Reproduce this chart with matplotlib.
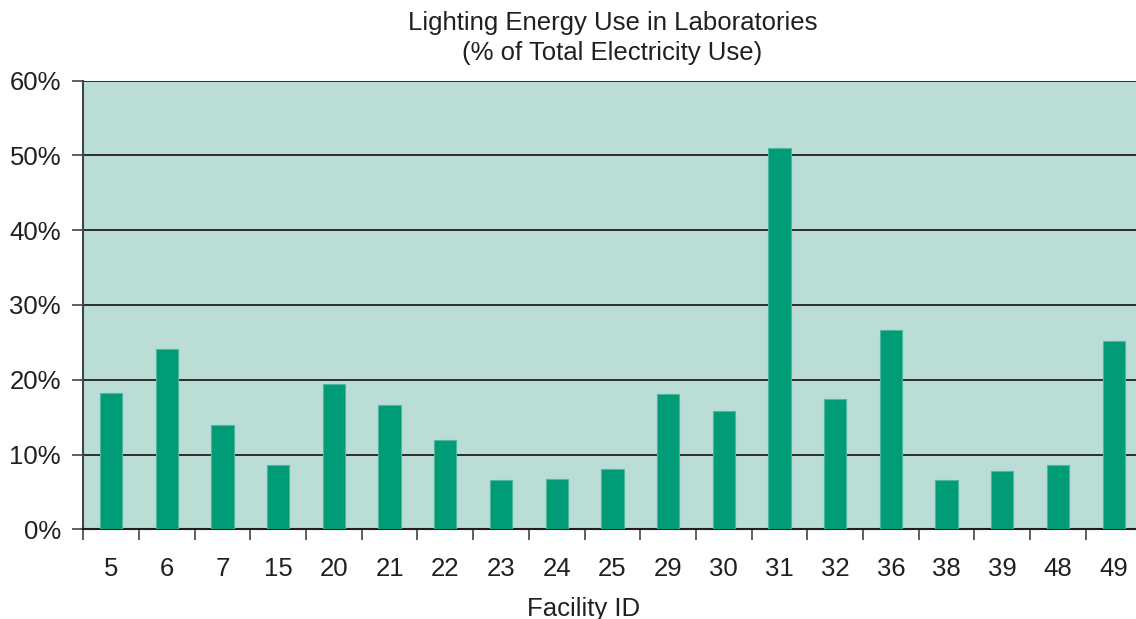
import matplotlib
matplotlib.use("Agg")
import matplotlib.pyplot as plt
import numpy as np

facility_ids = ["5", "6", "7", "15", "20", "21", "22", "23", "24", "25",
                "29", "30", "31", "32", "36", "38", "39", "48", "49"]
lighting_pct = [18.2, 24.1, 14.0, 8.6, 19.5, 16.6, 11.9, 6.55, 6.75, 8.05,
                18.05, 15.8, 51.0, 17.4, 26.65, 6.55, 7.75, 8.6, 25.2]
y_ticks = [0, 10, 20, 30, 40, 50, 60]
y_tick_labels = ["0%", "10%", "20%", "30%", "40%", "50%", "60%"]

plt.rcParams['font.family'] = ['Liberation Sans', 'DejaVu Sans']

W, H = 1136, 619
fig = plt.figure(figsize=(W / 100, H / 100), dpi=100)
left, right, top, bottom = 83.3, 1141.5, 80.7, 529.3
ax = fig.add_axes([left / W, 1 - bottom / H, (right - left) / W, (bottom - top) / H])

bg = "#BADDD6"
bar_color = "#009B77"
ax.set_facecolor(bg)

x = np.arange(len(facility_ids))
ax.bar(x, lighting_pct, width=0.4, color=bar_color, edgecolor="#4DB89A",
       linewidth=0.8, zorder=3)

ax.set_xlim(-0.5, len(facility_ids) - 0.5)
ax.set_ylim(0, 60)

ax.set_yticks(y_ticks)
ax.set_yticklabels(y_tick_labels, fontsize=18.5, color="#231F20")
ax.yaxis.grid(True, color="#231F20", linewidth=1.3, zorder=1)
ax.set_axisbelow(True)

# category boundaries as ticks, labels at centres
ax.set_xticks(np.arange(len(facility_ids) + 1) - 0.5)
ax.set_xticklabels([])
ax.set_xticks(x, minor=True)
ax.set_xticklabels(facility_ids, minor=True, fontsize=18.5, color="#231F20")
ax.tick_params(axis="x", which="major", length=8, width=1.2, color="#444444", direction="out")
ax.tick_params(axis="x", which="minor", length=0, pad=20)
ax.tick_params(axis="y", length=8, width=1.2, color="#444444", pad=8)

for s in ["top", "right"]:
    ax.spines[s].set_visible(False)
ax.spines["left"].set_color("#444444")
ax.spines["left"].set_linewidth(1.5)
ax.spines["bottom"].set_color("#231F20")
ax.spines["bottom"].set_linewidth(1.5)

ax.set_title("Lighting Energy Use in Laboratories\n(% of Total Electricity Use)",
             fontsize=18.5, color="#231F20", pad=15, linespacing=1.3)
ax.set_xlabel("Facility ID", fontsize=18.5, color="#231F20", labelpad=10)
ax.xaxis.set_label_coords((584 - left) / (right - left), -0.15)

fig.savefig("out.png", dpi=100)
